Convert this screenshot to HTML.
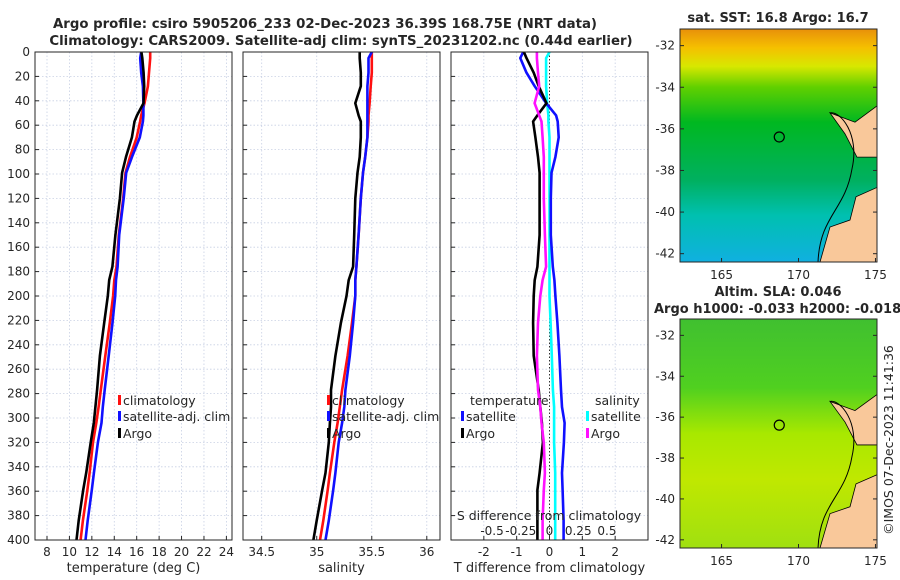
<!DOCTYPE html>
<html><head><meta charset="utf-8"><style>
html,body{margin:0;padding:0;background:#fff;}
svg{display:block;font-family:"DejaVu Sans","Liberation Sans",sans-serif;}
text{fill:#262626;}
</style></head><body>
<svg id="fig" width="900" height="580" viewBox="0 0 900 580" xmlns="http://www.w3.org/2000/svg">
<text x="325" y="28" text-anchor="middle" font-size="13.3" font-weight="bold">Argo profile: csiro 5905206_233 02-Dec-2023 36.39S 168.75E (NRT data)</text>
<text x="341" y="45" text-anchor="middle" font-size="13.3" font-weight="bold">Climatology: CARS2009. Satellite-adj clim: synTS_20231202.nc (0.44d earlier)</text>
<g id="p1"></g>
<g id="p2"></g>
<g id="p3"></g>
<g id="m1"></g>
<g id="m2"></g>
<text transform="translate(893,440) rotate(-90)" text-anchor="middle" font-size="12.5">©IMOS 07-Dec-2023 11:41:36</text>
</svg>
<script>
const depths=[0,5,17,28,42,52,57,70,86,99,120,150,176,187,200,222,249,277,291,304,320,345,359,384,400];
const tClim=[17.2,17.2,17.1,17.0,16.7,16.4,16.3,16.0,15.4,15.0,14.8,14.4,14.2,14.0,13.9,13.6,13.2,12.8,12.6,12.4,12.1,11.8,11.6,11.2,11.0];
const tDiffSat=[-0.8,-0.89,-0.7,-0.45,-0.1,0.2,0.25,0.28,0.18,0.06,0.04,0.04,0.1,0.15,0.18,0.24,0.3,0.35,0.38,0.46,0.44,0.38,0.4,0.43,0.43];
const tDiffArgo=[-0.78,-0.7,-0.48,-0.33,-0.09,-0.37,-0.5,-0.43,-0.35,-0.3,-0.3,-0.3,-0.37,-0.45,-0.48,-0.5,-0.48,-0.33,-0.28,-0.23,-0.2,-0.3,-0.37,-0.37,-0.37];
const sClim=[35.50,35.50,35.50,35.49,35.48,35.47,35.47,35.46,35.44,35.42,35.40,35.38,35.36,35.35,35.35,35.32,35.28,35.23,35.21,35.19,35.16,35.12,35.10,35.06,35.03];
const sDiffSat=[0.0,-0.03,-0.03,-0.03,-0.02,-0.01,-0.01,0,0,0,0,0,0,0,0,0.01,0.02,0.03,0.04,0.04,0.04,0.05,0.05,0.05,0.05];
const sDiffArgo=[-0.11,-0.11,-0.1,-0.09,-0.13,-0.09,-0.07,-0.06,-0.05,-0.05,-0.05,-0.04,-0.03,-0.06,-0.08,-0.1,-0.11,-0.1,-0.08,-0.07,-0.05,-0.04,-0.05,-0.06,-0.06];
const depthTicks=[0,20,40,60,80,100,120,140,160,180,200,220,240,260,280,300,320,340,360,380,400];
const tTicks=[8,10,12,14,16,18,20,22,24];
const sTicks=[34.5,35,35.5,36];
const tdTicks=[-2,-1,0,1,2];
const sdTicks=[-0.5,-0.25,0,0.25,0.5];
const latTicks=[-32,-34,-36,-38,-40,-42];
const lonTicks=[165,170,175];

const NS='http://www.w3.org/2000/svg';
function mk(parent,tag,attrs,txt){const e=document.createElementNS(NS,tag);for(const k in attrs)e.setAttribute(k,attrs[k]);if(txt!==undefined)e.textContent=txt;parent.appendChild(e);return e;}
const Y0=52,Y1=540;
const yD=d=>Y0+(d/400)*(Y1-Y0);
function lin(d0,d1,r0,r1){return v=>r0+(v-d0)/(d1-d0)*(r1-r0);}

function panel(g,x0,x1,xs,ticks,fmt,label){
  mk(g,'rect',{x:x0,y:Y0,width:x1-x0,height:Y1-Y0,fill:'#fff'});
  depthTicks.forEach(d=>{const l=mk(g,'line',{x1:x0,x2:x1,y1:yD(d),y2:yD(d),stroke:'#c8d0e4','stroke-width':0.8,'stroke-dasharray':'1.5,2'});});
  ticks.forEach(t=>{const X=xs(t);const l=mk(g,'line',{x1:X,x2:X,y1:Y0,y2:Y1,stroke:'#c8d0e4','stroke-width':0.8,'stroke-dasharray':'1.5,2'});
    mk(g,'line',{x1:X,x2:X,y1:Y1,y2:Y1-4,stroke:'#262626'});
    const tx=mk(g,'text',{x:X,y:Y1+16,'text-anchor':'middle','font-size':12},fmt(t));});
  const lb=mk(g,'text',{x:(x0+x1)/2,y:572,'text-anchor':'middle','font-size':13},label);
}
function frame(g,x0,x1){const r=mk(g,'rect',{x:x0,y:Y0,width:x1-x0,height:Y1-Y0,fill:'none',stroke:'#262626','stroke-width':1});}
function line(g,xs,vals,color,name){const pts=vals.map((v,i)=>xs(v).toFixed(1)+','+yD(depths[i]).toFixed(1)).join(' ');const p=mk(g,'polyline',{points:pts,fill:'none',stroke:color,'stroke-width':2.6,'stroke-linejoin':'round'});}
function legend(g,x,y,color,txt){mk(g,'rect',{x:x,y:y-10,width:3,height:10,fill:color});const t=mk(g,'text',{x:x+5,y:y,'font-size':12.5},txt);}

const tSat=tClim.map((v,i)=>v+tDiffSat[i]);
const tArgo=tClim.map((v,i)=>v+tDiffArgo[i]);
const sSat=sClim.map((v,i)=>v+sDiffSat[i]);
const sArgo=sClim.map((v,i)=>v+sDiffArgo[i]);

const g1=document.getElementById('p1');
const xT=lin(6.93,24.5,35,232);
panel(g1,35,232,xT,tTicks,t=>String(t),'temperature (deg C)');
depthTicks.forEach(d=>{mk(g1,'line',{x1:35,x2:39,y1:yD(d),y2:yD(d),stroke:'#262626'});const t=mk(g1,'text',{x:30,y:yD(d)+4,'text-anchor':'end','font-size':12},String(d));});
line(g1,xT,tClim,'#ff1010','temp-climatology-line');
line(g1,xT,tSat,'#1010ff','temp-satellite-line');
line(g1,xT,tArgo,'#000','temp-argo-line');
legend(g1,118,405,'#ff1010','climatology');legend(g1,118,421,'#1010ff','satellite-adj. clim');legend(g1,118,438,'#000','Argo');
frame(g1,35,232);

const g2=document.getElementById('p2');
const xS=lin(34.33,36.12,243,440);
panel(g2,243,440,xS,sTicks,t=>String(t),'salinity');
depthTicks.forEach(d=>mk(g2,'line',{x1:243,x2:247,y1:yD(d),y2:yD(d),stroke:'#262626'}));
line(g2,xS,sClim,'#ff1010','sal-climatology-line');
line(g2,xS,sSat,'#1010ff','sal-satellite-line');
line(g2,xS,sArgo,'#000','sal-argo-line');
legend(g2,327,405,'#ff1010','climatology');legend(g2,327,421,'#1010ff','satellite-adj. clim');legend(g2,327,438,'#000','Argo');
frame(g2,243,440);

const g3=document.getElementById('p3');
const xTD=lin(-3,3,451,648);
const xSD=lin(-0.857,0.857,451,648);
panel(g3,451,648,xTD,tdTicks,t=>String(t),'T difference from climatology');
depthTicks.forEach(d=>mk(g3,'line',{x1:451,x2:455,y1:yD(d),y2:yD(d),stroke:'#262626'}));
mk(g3,'line',{x1:xTD(0),x2:xTD(0),y1:Y0,y2:Y1,stroke:'#333','stroke-width':1,'stroke-dasharray':'1.5,2'});
line(g3,xSD,sDiffSat,'#00ffff','sdiff-satellite-line');
line(g3,xTD,tDiffSat,'#1010ff','tdiff-satellite-line');
line(g3,xTD,tDiffArgo,'#000','tdiff-argo-line');
line(g3,xSD,sDiffArgo,'#ff10ff','sdiff-argo-line');
{const t=mk(g3,'text',{x:470,y:405,'font-size':12.5},'temperature');}
{const t=mk(g3,'text',{x:595,y:405,'font-size':12.5},'salinity');}
legend(g3,461,421,'#1010ff','satellite');legend(g3,461,438,'#000','Argo');
legend(g3,586,421,'#00ffff','satellite');legend(g3,586,438,'#ff10ff','Argo');
{const t=mk(g3,'text',{x:549,y:520,'text-anchor':'middle','font-size':12.5},'S difference from climatology');}
sdTicks.forEach(v=>{const t=mk(g3,'text',{x:xSD(v),y:535,'text-anchor':'middle','font-size':12},String(v));});
frame(g3,451,648);

function map(g,y0,y1,kind){
  const x0=680,x1=877;
  const defs=mk(g,'defs',{});
  const gid='grad'+kind;
  const gr=mk(defs,'linearGradient',{id:gid,x1:0,y1:0,x2:0,y2:1});
  const stops=kind==='sst'?[[0,'#e8900a'],[0.08,'#f5c000'],[0.16,'#d8e800'],[0.25,'#60d000'],[0.4,'#00b820'],[0.65,'#00b060'],[0.8,'#00c0b0'],[1,'#10b0e0']]
    :[[0,'#40c030'],[0.3,'#50d020'],[0.5,'#a8e800'],[0.7,'#c0e800'],[1,'#a0e010']];
  stops.forEach(s=>mk(gr,'stop',{offset:s[0],'stop-color':s[1]}));
  const r=mk(g,'rect',{x:x0,y:y0,width:x1-x0,height:y1-y0,fill:'url(#'+gid+')'});
  const h=y1-y0;
  const land=mk(g,'path',{d:`M${x0+150} ${y0+h*0.36} L${x0+165} ${y0+h*0.45} L${x0+177} ${y0+h*0.55} L${x1} ${y0+h*0.55} L${x1} ${y0+h*0.33} L${x0+175} ${y0+h*0.4} Z M${x0+140} ${y1} L${x0+150} ${y0+h*0.85} L${x0+170} ${y0+h*0.82} L${x0+176} ${y0+h*0.72} L${x1} ${y0+h*0.68} L${x1} ${y1} Z`,fill:'#f9c89a',stroke:'#000','stroke-width':0.8});
  
  const c=mk(g,'path',{d:`M${x0+138} ${y1} C${x0+140} ${y0+h*0.8} ${x0+165} ${y0+h*0.78} ${x0+172} ${y0+h*0.6} C${x0+180} ${y0+h*0.45} ${x0+160} ${y0+h*0.35} ${x0+150} ${y0+h*0.36}`,fill:'none',stroke:'#000','stroke-width':1});
  
  const la=lin(-31.2,-42.4,y0,y1);
  const lo=lin(162.3,175.1,x0,x1);
  const m=mk(g,'circle',{cx:lo(168.75),cy:la(-36.39),r:5,fill:'none',stroke:'#000','stroke-width':1.2});
  mk(g,'rect',{x:x0,y:y0,width:x1-x0,height:h,fill:'none',stroke:'#262626'});
  latTicks.forEach(v=>{mk(g,'line',{x1:x0,x2:x0+4,y1:la(v),y2:la(v),stroke:'#262626'});mk(g,'line',{x1:x1,x2:x1-4,y1:la(v),y2:la(v),stroke:'#262626'});
    const t=mk(g,'text',{x:675,y:la(v)+4,'text-anchor':'end','font-size':12},String(v));});
  lonTicks.forEach(v=>{mk(g,'line',{x1:lo(v),x2:lo(v),y1:y1,y2:y1-4,stroke:'#262626'});
    const t=mk(g,'text',{x:lo(v),y:y1+17,'text-anchor':'middle','font-size':12},String(v));});
}
const m1=document.getElementById('m1');map(m1,29,262,'sst');
{const t=mk(m1,'text',{x:778,y:22,'text-anchor':'middle','font-size':13,'font-weight':'bold'},'sat. SST: 16.8 Argo: 16.7');}
const m2=document.getElementById('m2');map(m2,319,548,'sla');
{const t=mk(m2,'text',{x:778,y:296,'text-anchor':'middle','font-size':13,'font-weight':'bold'},'Altim. SLA: 0.046');}
{const t=mk(m2,'text',{x:654,y:313,'font-size':13,'font-weight':'bold'},'Argo h1000: -0.033 h2000: -0.018');}
</script>
</body></html>
